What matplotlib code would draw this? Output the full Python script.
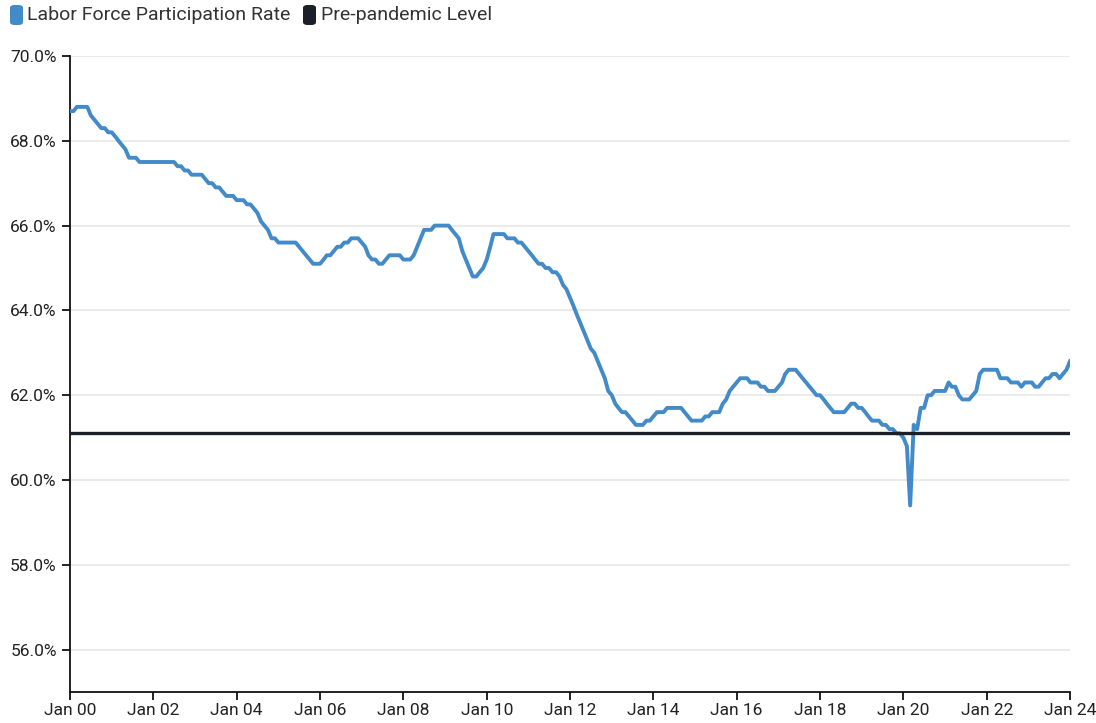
import numpy as np
import pandas as pd
import matplotlib
matplotlib.use("Agg")
import matplotlib.pyplot as plt
import matplotlib.dates as mdates
from matplotlib.patches import FancyBboxPatch

plt.rcParams["font.family"] = ["Roboto", "DejaVu Sans"]

# monthly values, Jan 2000 .. Jan 2024
y2000 = [68.7, 68.7, 68.8, 68.8, 68.8, 68.8, 68.6, 68.5, 68.4, 68.3, 68.3, 68.2]
y2001 = [68.2, 68.1, 68.0, 67.9, 67.8, 67.6, 67.6, 67.6, 67.5, 67.5, 67.5, 67.5]
y2002 = [67.5, 67.5, 67.5, 67.5, 67.5, 67.5, 67.5, 67.4, 67.4, 67.3, 67.3, 67.2]
y2003 = [67.2, 67.2, 67.2, 67.1, 67.0, 67.0, 66.9, 66.9, 66.8, 66.7, 66.7, 66.7]
y2004 = [66.6, 66.6, 66.6, 66.5, 66.5, 66.4, 66.3, 66.1, 66.0, 65.9, 65.7, 65.7]
y2005 = [65.6, 65.6, 65.6, 65.6, 65.6, 65.6, 65.5, 65.4, 65.3, 65.2, 65.1, 65.1]
y2006 = [65.1, 65.2, 65.3, 65.3, 65.4, 65.5, 65.5, 65.6, 65.6, 65.7, 65.7, 65.7]
y2007 = [65.6, 65.5, 65.3, 65.2, 65.2, 65.1, 65.1, 65.2, 65.3, 65.3, 65.3, 65.3]
y2008 = [65.2, 65.2, 65.2, 65.3, 65.5, 65.7, 65.9, 65.9, 65.9, 66.0, 66.0, 66.0]
y2009 = [66.0, 66.0, 65.9, 65.8, 65.7, 65.4, 65.2, 65.0, 64.8, 64.8, 64.9, 65.0]
y2010 = [65.2, 65.5, 65.8, 65.8, 65.8, 65.8, 65.7, 65.7, 65.7, 65.6, 65.6, 65.5]
y2011 = [65.4, 65.3, 65.2, 65.1, 65.1, 65.0, 65.0, 64.9, 64.9, 64.8, 64.6, 64.5]
y2012 = [64.3, 64.1, 63.9, 63.7, 63.5, 63.3, 63.1, 63.0, 62.8, 62.6, 62.4, 62.1]
y2013 = [62.0, 61.8, 61.7, 61.6, 61.6, 61.5, 61.4, 61.3, 61.3, 61.3, 61.4, 61.4]
y2014 = [61.5, 61.6, 61.6, 61.6, 61.7, 61.7, 61.7, 61.7, 61.7, 61.6, 61.5, 61.4]
y2015 = [61.4, 61.4, 61.4, 61.5, 61.5, 61.6, 61.6, 61.6, 61.8, 61.9, 62.1, 62.2]
y2016 = [62.3, 62.4, 62.4, 62.4, 62.3, 62.3, 62.3, 62.2, 62.2, 62.1, 62.1, 62.1]
y2017 = [62.2, 62.3, 62.5, 62.6, 62.6, 62.6, 62.5, 62.4, 62.3, 62.2, 62.1, 62.0]
y2018 = [62.0, 61.9, 61.8, 61.7, 61.6, 61.6, 61.6, 61.6, 61.7, 61.8, 61.8, 61.7]
y2019 = [61.7, 61.6, 61.5, 61.4, 61.4, 61.4, 61.3, 61.3, 61.2, 61.2, 61.1, 61.1]
y2020 = [61.0, 60.8, 59.4, 61.3, 61.2, 61.7, 61.7, 62.0, 62.0, 62.1, 62.1, 62.1]
y2021 = [62.1, 62.3, 62.2, 62.2, 62.0, 61.9, 61.9, 61.9, 62.0, 62.1, 62.5, 62.6]
y2022 = [62.6, 62.6, 62.6, 62.6, 62.4, 62.4, 62.4, 62.3, 62.3, 62.3, 62.2, 62.3]
y2023 = [62.3, 62.3, 62.2, 62.2, 62.3, 62.4, 62.4, 62.5, 62.5, 62.4, 62.5, 62.6]
y2024 = [62.8]

lfpr = (y2000 + y2001 + y2002 + y2003 + y2004 + y2005 + y2006 + y2007 + y2008
        + y2009 + y2010 + y2011 + y2012 + y2013 + y2014 + y2015 + y2016 + y2017
        + y2018 + y2019 + y2020 + y2021 + y2022 + y2023 + y2024)
dates = pd.date_range("2000-01-01", periods=len(lfpr), freq="MS")
pre_pandemic = 61.1

series_names = ["Labor Force Participation Rate", "Pre-pandemic Level"]
blue = "#428bc8"
dark = "#1b2028"

W, H = 1096, 723
fig = plt.figure(figsize=(W / 100, H / 100), dpi=100)
ax = fig.add_axes([70 / W, 1 - 692 / H, 1000 / W, 636 / H])

ax.plot(dates, lfpr, color=blue, lw=2.8, solid_joinstyle="round", zorder=3)
ax.axhline(pre_pandemic, color=dark, lw=2.4, zorder=4)

ax.set_xlim(pd.Timestamp("2000-01-01"), pd.Timestamp("2024-01-01"))
ax.set_ylim(55, 70)
ax.set_yticks(np.arange(56, 70.1, 2))
ax.yaxis.set_major_formatter(matplotlib.ticker.FuncFormatter(lambda v, p: f"{v:.1f}%"))
ax.xaxis.set_major_locator(mdates.YearLocator(2))
ax.xaxis.set_major_formatter(mdates.DateFormatter("%b %y"))

ax.grid(axis="y", color="#e8e8e8", lw=1.2)
ax.set_axisbelow(True)
for s in ["top", "right"]:
    ax.spines[s].set_visible(False)
for s in ["left", "bottom"]:
    ax.spines[s].set_color("#111111")
    ax.spines[s].set_linewidth(1.3)
ax.tick_params(axis="both", length=6, width=1.3, color="#111111",
               labelsize=12.5, labelcolor="#222222")
ax.tick_params(axis="x", pad=2)

# legend swatches at the top
for x0, x1, c, name in [(10, 27, blue, series_names[0]), (303, 321, dark, series_names[1])]:
    fig.patches.append(FancyBboxPatch((x0 / W, 1 - 25 / H), 13 / W, 20 / H,
                                      boxstyle="round,pad=0,rounding_size=0.004",
                                      transform=fig.transFigure, fc=c, ec="none"))
    fig.text(x1 / W, 1 - 15 / H, name, fontsize=14, color="#333333", va="center")

fig.savefig("out.png", dpi=100)
